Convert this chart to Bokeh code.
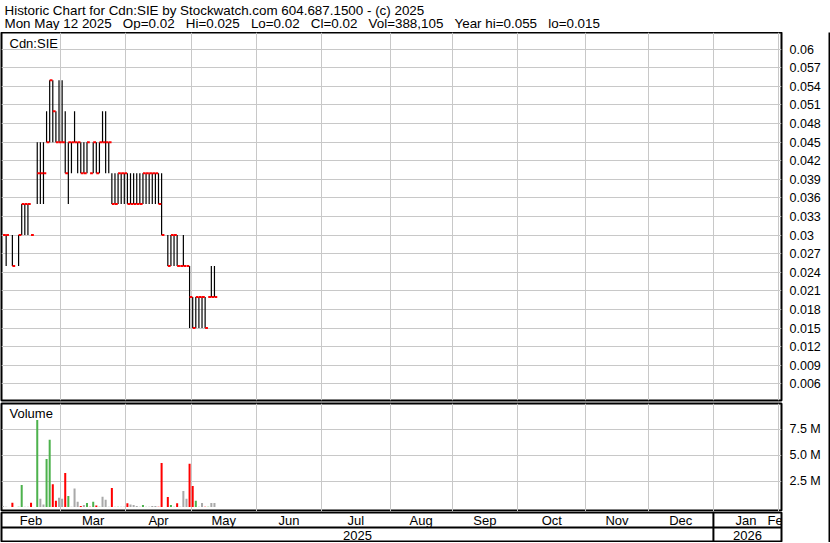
import math
from bokeh.plotting import figure
from bokeh.layouts import column, row
from bokeh.models import ColumnDataSource, FixedTicker, Range1d, Span, Label
from bokeh.core.properties import value
from bokeh.embed import file_html
from bokeh.resources import INLINE

FONT = "Liberation Sans"
nan = float("nan")

# ---------------- texts ----------------
title_line = "Historic Chart for Cdn:SIE by Stockwatch.com 604.687.1500 - (c) 2025"
info_items = ["Mon May 12 2025", "Op=0.02", "Hi=0.025", "Lo=0.02", "Cl=0.02", "Vol=388,105", "Year hi=0.055", "lo=0.015"]
symbol_label = "Cdn:SIE"
volume_label = "Volume"

# ---------------- daily sessions (trading-day order, from Mon Feb 3 2025) ----------------
high = [0.03, 0.03, nan, 0.03, nan, 0.03, 0.035, 0.035, 0.035, 0.03, nan, 0.045, 0.045, 0.045, 0.05, 0.055, 0.055, 0.05, 0.055,
        0.055, 0.05, 0.045, 0.045, 0.05, 0.045, 0.045, 0.045, 0.045, 0.04, 0.045, 0.045, 0.045, 0.05, 0.05, 0.045, 0.04, 0.04, 0.04, 0.04, 0.04,
        0.04, 0.04, 0.04, 0.04, 0.04, 0.04, 0.04, 0.04, 0.04, 0.04, 0.04, 0.04, nan, 0.03, 0.03, 0.03, 0.03, 0.025, 0.03, 0.025, 0.025,
        0.02, 0.02, 0.02, 0.02, 0.02, 0.02, 0.025, 0.025]
low = [0.03, 0.025, nan, 0.025, nan, 0.025, 0.03, 0.03, 0.03, 0.03, nan, 0.035, 0.035, 0.035, 0.045, 0.045, 0.045, 0.045, 0.045,
       0.045, 0.04, 0.035, 0.04, 0.045, 0.04, 0.04, 0.04, 0.04, 0.04, 0.04, 0.04, 0.04, 0.045, 0.04, 0.04, 0.035, 0.035, 0.035, 0.035, 0.035,
       0.035, 0.035, 0.035, 0.035, 0.035, 0.035, 0.035, 0.035, 0.035, 0.035, 0.035, 0.03, nan, 0.025, 0.025, 0.025, 0.025, 0.025, 0.025, 0.025, 0.015,
       0.015, 0.015, 0.015, 0.015, 0.015, 0.02, 0.02, 0.02]
close = [0.03, 0.03, nan, 0.025, nan, 0.03, 0.035, 0.035, 0.035, 0.03, nan, 0.04, 0.04, 0.04, 0.045, 0.055, 0.05, 0.045, 0.045,
         0.045, 0.04, 0.045, 0.045, 0.045, 0.045, 0.04, 0.04, 0.045, 0.04, 0.045, 0.04, 0.045, 0.045, 0.045, 0.045, 0.035, 0.035, 0.04, 0.04, 0.04,
         0.035, 0.035, 0.035, 0.035, 0.035, 0.04, 0.04, 0.04, 0.04, 0.04, 0.035, 0.03, nan, 0.025, 0.03, 0.03, 0.025, 0.025, 0.025, 0.025, 0.02,
         0.015, 0.02, 0.02, 0.02, 0.015, 0.02, 0.02, 0.02]
volume = [100000, 30000, 0, 420000, 0, 30000, 2130000, 40000, 30000, 420000, 0, 8400000, 800000, 250000, 4650000, 6500000, 2200000, 600000, 900000,
          800000, 3300000, 1060000, 30000, 1800000, 500000, 100000, 200000, 400000, 30000, 500000, 150000, 30000, 1000000, 700000, 30000, 1850000, 30000, 30000, 20000, 20000,
          360000, 250000, 200000, 100000, 20000, 200000, 20000, 20000, 100000, 100000, 20000, 4260000, 0, 970000, 200000, 30000, 360000, 20000, 1550000, 800000, 4170000,
          2030000, 600000, 30000, 400000, 20000, 20000, 400000, 388105]

# ---------------- calendar / axes ----------------
month_names = ["Feb", "Mar", "Apr", "May", "Jun", "Jul", "Aug", "Sep", "Oct", "Nov", "Dec", "Jan", "Feb"]
month_sessions = [19, 21, 21, 21, 21, 22, 20, 21, 22, 20, 21, 21, 21]
year_names = ["2025", "2026"]
year_month_counts = [11, 2]

price_ticks = [0.006, 0.009, 0.012, 0.015, 0.018, 0.021, 0.024, 0.027, 0.03, 0.033,
               0.036, 0.039, 0.042, 0.045, 0.048, 0.051, 0.054, 0.057, 0.06]
price_tick_labels = ["0.006", "0.009", "0.012", "0.015", "0.018", "0.021", "0.024", "0.027", "0.03", "0.033",
                     "0.036", "0.039", "0.042", "0.045", "0.048", "0.051", "0.054", "0.057", "0.06"]
volume_ticks = [2500000, 5000000, 7500000]
volume_tick_labels = ["2.5 M", "5.0 M", "7.5 M"]

# ---------------- derived ----------------
UP, DOWN, SAME = "#4DB24D", "#FF0000", "#A9A9A9"
GRID = "#C8C8C8"

n = len(close)
valid = [i for i in range(n) if not math.isnan(close[i])]
vcol = []
prev = None
for i in valid:
    c = close[i]
    if prev is None or c == prev:
        vcol.append(SAME)
    elif c > prev:
        vcol.append(UP)
    else:
        vcol.append(DOWN)
    prev = c

starts = [0]
for s in month_sessions[:-1]:
    starts.append(starts[-1] + s)
bounds = [s - 0.5 for s in starts[1:]]
x_start = -0.5
x_end = starts[-1] + 0.4

month_pos = []
for s, cnt in zip(starts, month_sessions):
    mid = s - 0.5 + cnt / 2.0
    month_pos.append(mid if mid < x_end else s - 0.5)

year_pos = []
year_bounds = []
mi = 0
for cnt in year_month_counts:
    a = max(starts[mi] - 0.5, x_start)
    b = min(starts[mi + cnt - 1] - 0.5 + month_sessions[mi + cnt - 1], x_end)
    year_pos.append((a + b) / 2.0)
    if mi > 0:
        year_bounds.append(starts[mi] - 0.5)
    mi += cnt

src = ColumnDataSource(dict(
    x=valid,
    hi=[high[i] for i in valid],
    lo=[low[i] for i in valid],
    cl=[close[i] for i in valid],
    tx=[i + 0.45 for i in valid],
    v=[volume[i] for i in valid],
    c=vcol,
))

TOTAL_W = 830
W = 828
AX = 47
P_LO, P_HI = 0.0033, 0.0627
V_LO, V_HI = -430000, 10000000


def blank_fig(w, h, color):
    f = figure(width=w, height=h, output_backend="svg", toolbar_location=None,
               x_axis_location=None, y_axis_location=None, min_border=0)
    f.outline_line_color = None
    f.background_fill_color = color
    f.border_fill_color = color
    f.xgrid.visible = False
    f.ygrid.visible = False
    return f


def base_fig(h, yr, top, bottom, yaxis=True):
    p = figure(width=W, height=h, x_range=Range1d(x_start, x_end), y_range=yr,
               output_backend="svg", toolbar_location=None,
               x_axis_location=None, y_axis_location="right" if yaxis else None,
               min_border_left=1, min_border_right=AX, min_border_top=top, min_border_bottom=bottom)
    p.outline_line_color = "black"
    p.outline_line_width = 2
    p.outline_line_alpha = 1.0
    p.background_fill_color = "white"
    p.border_fill_color = "white"
    p.xgrid.ticker = FixedTicker(ticks=bounds)
    p.xgrid.grid_line_color = GRID
    p.xgrid.grid_line_width = 1
    p.ygrid.grid_line_color = GRID
    p.ygrid.grid_line_width = 1
    if yaxis:
        ax = p.yaxis[0]
        ax.axis_line_color = None
        ax.major_tick_line_color = None
        ax.minor_tick_line_color = None
        ax.major_label_text_font = FONT
        ax.major_label_text_font_size = "12.5px"
        ax.major_label_text_color = "black"
        ax.major_label_standoff = 2
    return p


# header
HDR_H = 30
hdr = figure(width=TOTAL_W, height=HDR_H, x_range=Range1d(0, TOTAL_W), y_range=Range1d(0, HDR_H),
             output_backend="svg", toolbar_location=None,
             x_axis_location=None, y_axis_location=None, min_border=0)
hdr.outline_line_color = None
hdr.xgrid.visible = False
hdr.ygrid.visible = False
GAP = " \u00a0\u00a0"
hdr.text(x=[4, 4], y=[HDR_H - 9.5, HDR_H - 23], text=[title_line, GAP.join(info_items)],
         text_font=value(FONT), text_font_size="13.4px", text_color="black",
         text_baseline="alphabetic", text_align="left")

# price panel
pp = base_fig(370, Range1d(P_LO, P_HI), 0, 2)
pp.yaxis.ticker = FixedTicker(ticks=price_ticks)
pp.yaxis.major_label_overrides = {t: s for t, s in zip(price_ticks, price_tick_labels)}
pp.segment(x0="x", y0="lo", x1="x", y1="hi", source=src, line_color="black", line_width=1.2)
pp.rect(x="tx", y="cl", width=0.9, height=2, height_units="screen", source=src,
        fill_color="#FF0000", line_color=None)
pp.add_layout(Label(x=x_start, y=P_HI, x_offset=8, y_offset=-11, text=symbol_label,
                    text_font=FONT, text_font_size="13px", text_color="black",
                    text_baseline="alphabetic"))

# volume panel
vp = base_fig(109, Range1d(V_LO, V_HI), 1, 0)
vp.yaxis.ticker = FixedTicker(ticks=volume_ticks)
vp.yaxis.major_label_overrides = {t: s for t, s in zip(volume_ticks, volume_tick_labels)}
vp.vbar(x="x", top="v", bottom=0, width=0.65, source=src, fill_color="c", line_color=None)
vp.add_layout(Label(x=x_start, y=V_HI, x_offset=8, y_offset=-10, text=volume_label,
                    text_font=FONT, text_font_size="13px", text_color="black",
                    text_baseline="alphabetic"))

# date rows
dp = base_fig(31, Range1d(0, 2), 1, 0, yaxis=False)
dp.xgrid.visible = False
dp.ygrid.visible = False
dp.add_layout(Span(location=1, dimension="width", line_color="black", line_width=2))
for yb in year_bounds:
    dp.add_layout(Span(location=yb, dimension="height", line_color="black", line_width=2))
dp.text(x=month_pos, y=[1.5] * len(month_pos), text=month_names,
        text_font=value(FONT), text_font_size="13px", text_color="black",
        text_baseline="middle", text_align="center")
dp.text(x=year_pos, y=[0.47] * len(year_pos), text=year_names,
        text_font=value(FONT), text_font_size="13px", text_color="black",
        text_baseline="middle", text_align="center")

top_rule = blank_fig(TOTAL_W, 2, "black")
right_rule = blank_fig(2, 370 + 109 + 31, "black")
bottom_rule = blank_fig(TOTAL_W, 1, "black")

panels = column(pp, vp, dp, spacing=0)
layout = column(hdr, top_rule, row(panels, right_rule, spacing=0), bottom_rule, spacing=0)

open("out.html", "w").write(file_html(layout, INLINE))
